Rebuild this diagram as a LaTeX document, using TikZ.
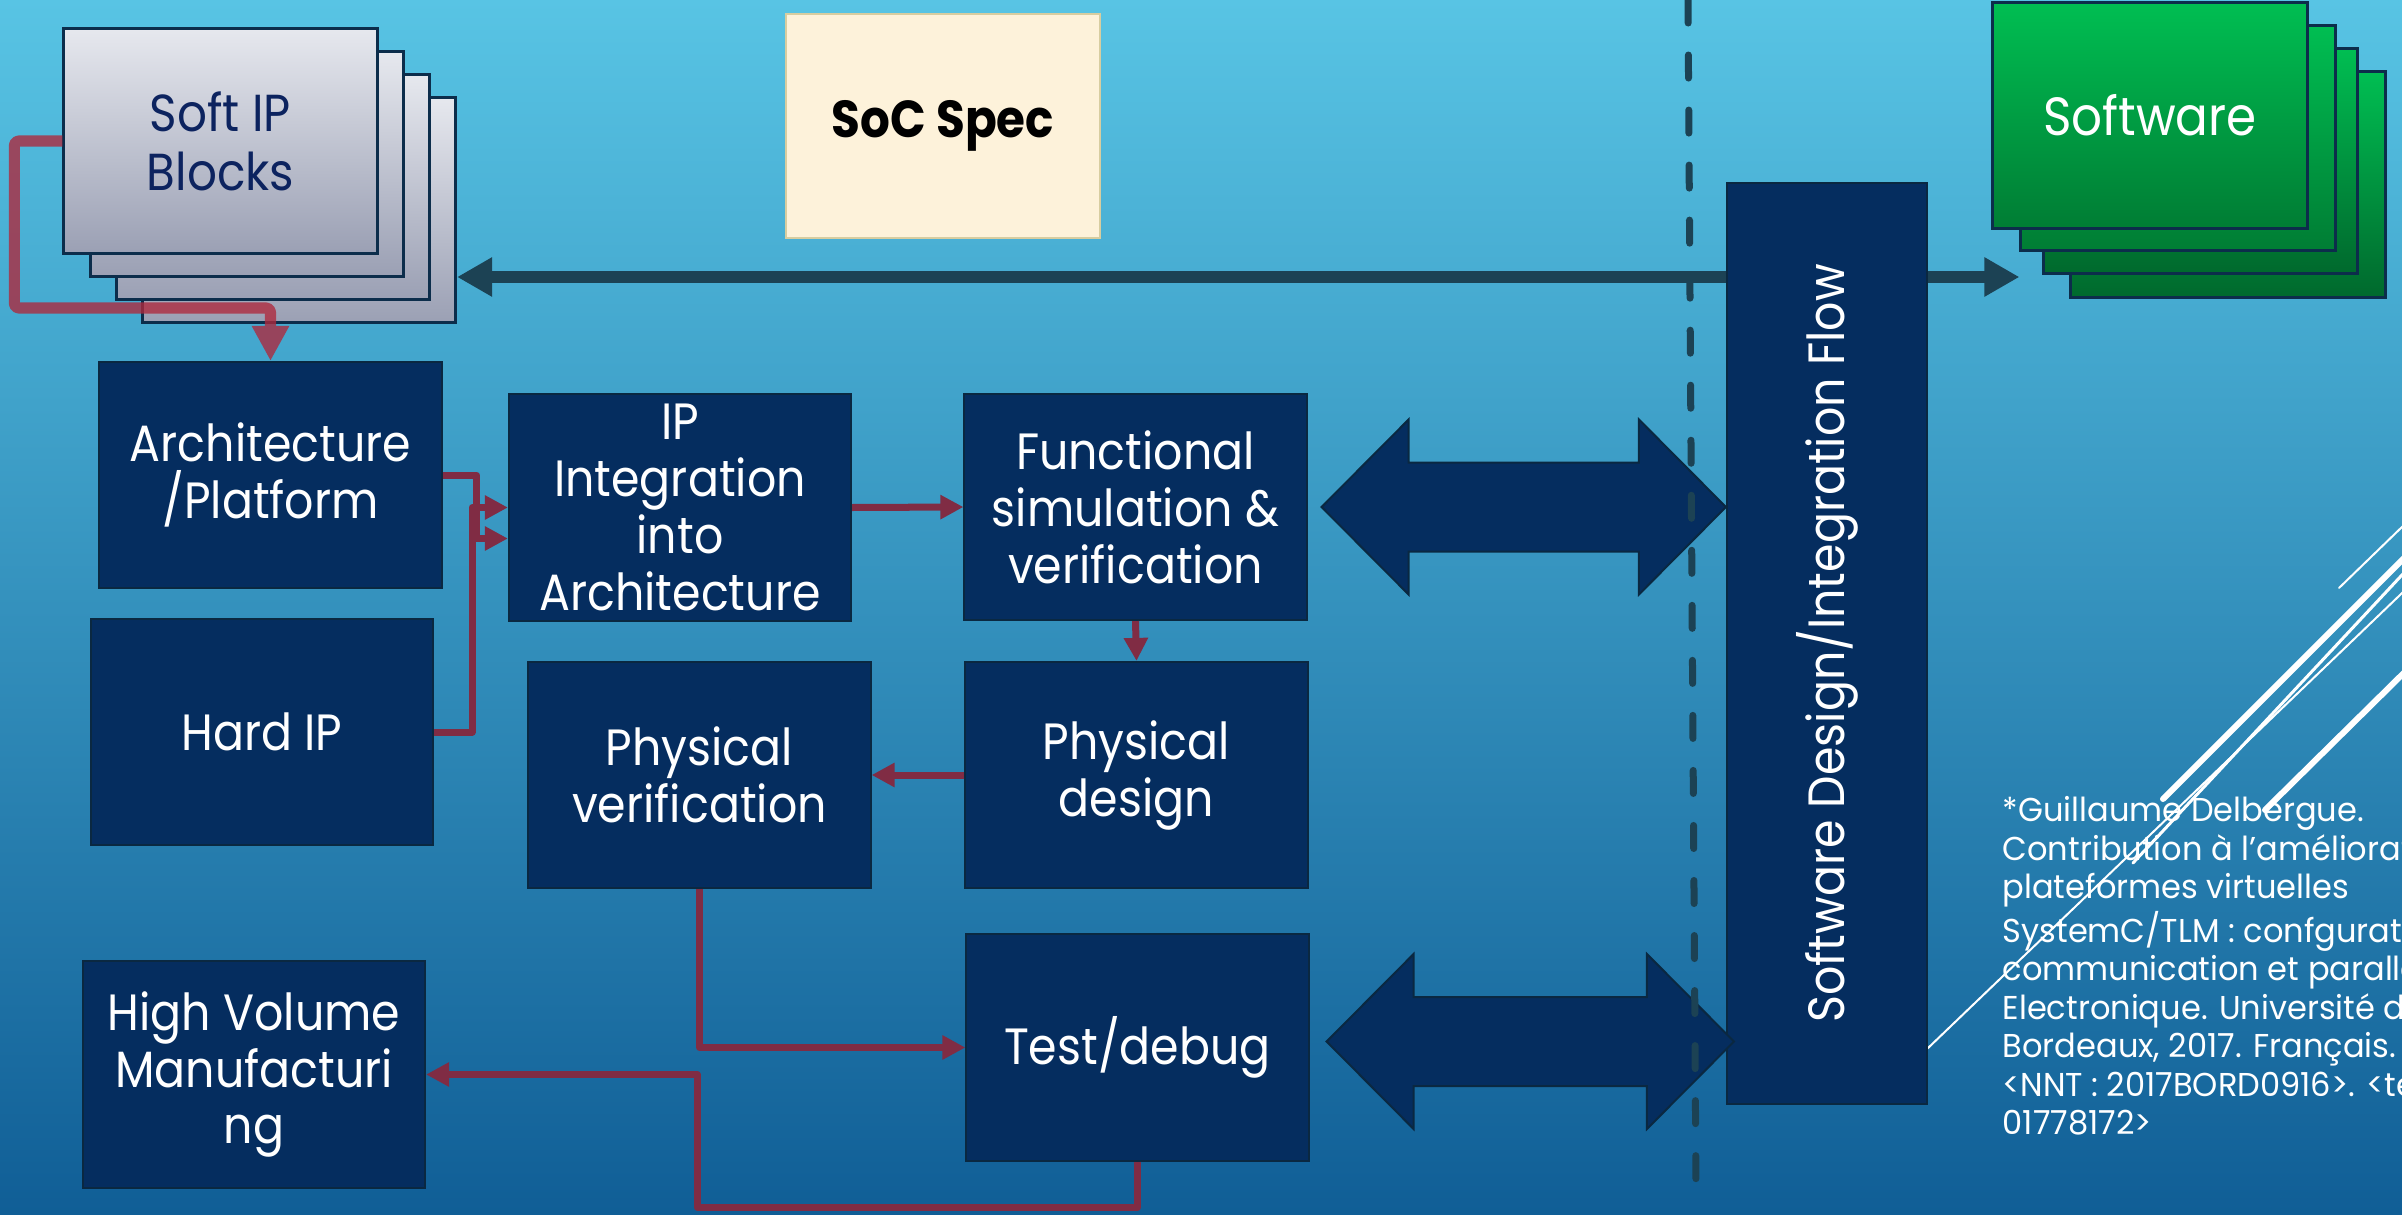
\documentclass[tikz,border=0pt]{standalone}
\usepackage{fontspec}
\setmainfont{Poppins}
\newfontfamily\boxfont{Poppins}[FakeStretch=0.9]
\newfontfamily\citefont{Poppins}[FakeStretch=0.97]
\usetikzlibrary{arrows.meta,calc}

\definecolor{bgtop}{RGB}{88,196,228}
\definecolor{bgmid}{RGB}{55,150,196}
\definecolor{bgbot}{RGB}{16,94,150}
\definecolor{navy}{RGB}{5,45,95}
\definecolor{blkedge}{RGB}{10,40,65}
\definecolor{sheettop}{RGB}{230,232,238}
\definecolor{sheetbot}{RGB}{155,160,180}
\definecolor{sheetedge}{RGB}{12,45,75}
\definecolor{softtext}{RGB}{12,35,95}
\definecolor{greentop}{RGB}{0,190,82}
\definecolor{greenbot}{RGB}{0,125,52}
\definecolor{greenback}{RGB}{0,105,45}
\definecolor{busteal}{RGB}{28,66,84}
\definecolor{flowred}{RGB}{128,44,68}
\definecolor{softred}{RGB}{175,40,60}
\definecolor{specfill}{RGB}{253,242,218}
\definecolor{specedge}{RGB}{215,205,160}

\tikzset{
  blk/.style={draw=blkedge, line width=0.02cm, fill=navy, minimum width=3.42cm,
    minimum height=2.26cm, inner sep=0pt, text=white, align=center,
    font=\boxfont\fontsize{14.5pt}{16.2pt}\selectfont},
  sheet/.style={draw=sheetedge, line width=0.03cm, minimum width=3.13cm,
    minimum height=2.24cm, inner sep=0pt, top color=sheettop, bottom color=sheetbot},
  swsheet/.style={draw=sheetedge, line width=0.03cm, minimum width=3.14cm,
    minimum height=2.25cm, inner sep=0pt, top color=greentop, bottom color=greenbot},
  flow/.style={draw=flowred, line width=0.07cm, line join=round,
    -{Triangle[length=0.23cm,width=0.23cm]}},
  softflow/.style={draw=softred, line width=0.11cm, line join=round, rounded corners=0.04cm,
    -{Triangle[length=0.35cm,width=0.35cm]}},
  bus/.style={draw=busteal, line width=0.12cm,
    {Triangle[length=0.35cm,width=0.37cm]}-{Triangle[length=0.35cm,width=0.37cm]}},
  bigarrow/.style={fill=navy, draw=blkedge, line width=0.02cm},
  divider/.style={draw=busteal, line width=0.07cm, line cap=round,
    dash pattern=on 0.23cm off 0.32cm},
  deco/.style={draw=white, line cap=round},
}

% fat two-headed arrow between two tip points
\newcommand\dualarrow[2]{%
  \filldraw[bigarrow] (#1) -- ++(87,-87.5) -- ++(0,43) -- ($(#2)+(-87,-44.5)$)
    -- ++(0,-43) -- (#2) -- ++(-87,87.5) -- ++(0,-43) -- ($(#1)+(87,44.5)$)
    -- ++(0,43) -- cycle;}

\begin{document}
\begin{tikzpicture}[x=0.01cm,y=-0.01cm]
\path[use as bounding box] (0,0) rectangle (2402,1215);
\clip (0,0) rectangle (2402,1215);

% background
\shade[top color=bgtop, middle color=bgmid, bottom color=bgbot] (0,0) rectangle (2402,1215);

% decorative diagonal strokes
\draw[deco, line width=0.06cm] (2163,799) -- (2500,462);
\draw[deco, line width=0.03cm] (2133,863) -- (2500,470);
\draw[deco, line width=0.02cm] (1927,1049) -- (2500,499);
\draw[deco, line width=0.06cm] (2265,810) -- (2500,578);
\draw[deco, line width=0.02cm] (2339,588) -- (2500,432);

% soft IP stack
\node[sheet] (softD) at (299,210) {};
\node[sheet] (softC) at (273,187) {};
\node[sheet] (softB) at (247,164) {};
\node[sheet, text=softtext, align=center,
  font=\boxfont\fontsize{14.8pt}{16.8pt}\selectfont] (softA) at (220.5,141) {Soft IP\\Blocks};

% software stack
\node[swsheet, bottom color=greenback] (swD) at (2228,184.5) {};
\node[swsheet, bottom color=greenback] (swC) at (2200.5,161) {};
\node[swsheet] (swB) at (2178,138) {};
\node[swsheet, text=white, font=\boxfont\fontsize{15.3pt}{18pt}\selectfont] (swA) at (2150,115.5) {Software};

% specification sheet
\node[draw=specedge, fill=specfill, line width=0.02cm, minimum width=3.14cm,
  minimum height=2.24cm, inner sep=0pt,
  font=\boxfont\bfseries\fontsize{14.8pt}{17pt}\selectfont] (spec) at (943,126) {SoC Spec};

% hardware/software bus
\coordinate (busy) at (0,277);
\draw[bus] (softD.east |- busy) -- (swB.west |- busy);

% flow blocks
\node[blk] (arch) at (270.5,475) {Architecture\\/Platform};
\node[blk] (ip) at (680,507.5) {IP\\Integration\\into\\Architecture};
\node[blk] (func) at (1135.5,507) {Functional\\simulation \&\\verification};
\node[blk] (hard) at (262,732) {Hard IP};
\node[blk] (pv) at (699.5,775) {Physical\\verification};
\node[blk] (pd) at (1136.5,775) {Physical\\design};
\node[blk] (test) at (1137.5,1047.5) {Test/debug};
\node[blk] (hvm) at (254,1074.5) {High Volume\\Manufacturi\\ng};
\node[blk, minimum width=2.00cm, minimum height=9.21cm] (swd) at (1827,643.5) {};
\node[rotate=90, text=white, inner sep=0pt,
  font=\boxfont\fontsize{14.5pt}{16.2pt}\selectfont] (swdlabel) at (swd.center)
  {Software Design/Integration Flow};

% hardware flow connectors
\begin{scope}[transparency group, opacity=0.78]
\draw[softflow] (softA.west) -- ++(-48,0) -- ++(0,167) -| (arch.north);
\end{scope}
\draw[flow] (arch.east) -- ++(34,0) |- ($(ip.west)+(0,31)$);
\draw[flow] (hard.east) -- ++(38,0) |- (ip.west);
\draw[flow] (ip.east) -- (func.west);
\draw[flow] (func.south) -- (pd.north);
\draw[flow] (pd.west) -- (pv.east);
\draw[flow] (pv.south) |- (test.west);
\draw[flow] (test.south) -- ++(0,46) -| ($(hvm.east)+(271,0)$) -- (hvm.east);

% exchanges with the software flow
\coordinate (upL) at ($(func.east)+(14,0)$);
\coordinate (upR) at (swd.west |- upL);
\coordinate (loL) at ($(test.east)+(17,-6)$);
\coordinate (loR) at ($(swd.west |- loL)+(8,0)$);
\dualarrow{upL}{upR}
\dualarrow{loL}{loR}

% hardware / software divide
\draw[divider] (1688,0) -- (1696,1187);

% reference
\node[anchor=north west, inner sep=0pt, align=left, text=white,
  font=\citefont\fontsize{9.4pt}{10.95pt}\selectfont] (cite) at (2002,796)
  {*Guillaume Delbergue.\\
   Contribution à l’amélioration des\\
   plateformes virtuelles\\
   SystemC/TLM : confguration,\\
   communication et parallélisme.\\
   Electronique. Université de\\
   Bordeaux, 2017. Français.\\
   <NNT : 2017BORD0916>. <tel-\\
   01778172>};
\end{tikzpicture}
\end{document}
